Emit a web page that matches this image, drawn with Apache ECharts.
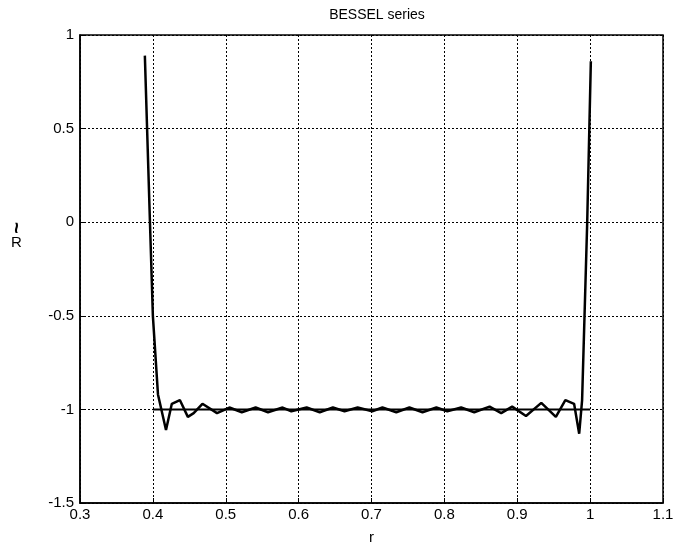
<!DOCTYPE html>
<html>
<head>
<meta charset="utf-8">
<script src="https://cdn.jsdelivr.net/npm/echarts@6/dist/echarts.min.js"></script>
<style>html,body{margin:0;padding:0;background:#fff}#c{width:681px;height:550px}</style>
</head>
<body>
<div id="c"></div>
<script>
var titleText = 'BESSEL series';
var xName = 'r';
var rVals = [0.389,0.396,0.400,0.407,0.418,0.426,0.437,0.448,0.456,0.468,0.488,0.505,0.522,0.541,0.558,0.578,0.590,0.611,0.629,0.647,0.663,0.681,0.701,0.715,0.734,0.752,0.770,0.789,0.804,0.823,0.841,0.862,0.878,0.893,0.912,0.933,0.953,0.966,0.978,0.985,0.989,0.996,1.001];
var RVals = [0.89,0.0,-0.5,-0.92,-1.11,-0.97,-0.95,-1.04,-1.02,-0.97,-1.02,-0.99,-1.015,-0.99,-1.015,-0.99,-1.01,-0.99,-1.015,-0.99,-1.01,-0.99,-1.01,-0.99,-1.015,-0.99,-1.015,-0.99,-1.01,-0.99,-1.015,-0.985,-1.02,-0.985,-1.035,-0.965,-1.04,-0.95,-0.97,-1.13,-0.95,0.0,0.86];
var exactR = [0.4, 1.0];
var exactVal = [-1, -1];

var chart = echarts.init(document.getElementById('c'));
var font = 'Liberation Sans, Arial, sans-serif';
var approx = rVals.map(function(r,i){return [r, RVals[i]];});
var exact = exactR.map(function(r,i){return [r, exactVal[i]];});
var splitStyle = {show:true, lineStyle:{color:'#000', type:[2,2], width:1}};
chart.setOption({
  animation:false,
  backgroundColor:'#fff',
  title:{text:titleText, left:372, top:3, textAlign:'center', textStyle:{fontFamily:font, fontSize:14, fontWeight:'normal', color:'#000'}},
  grid:{left:80, right:18, top:35, bottom:43, show:true, borderColor:'#000', borderWidth:1.5, backgroundColor:'#fff'},
  xAxis:{type:'value', min:0.3, max:1.1, interval:0.1, name:xName, nameLocation:'middle', nameGap:27,
    nameTextStyle:{fontFamily:font, fontSize:15, color:'#000'},
    axisLine:{show:true, onZero:false, lineStyle:{color:'#000', width:1.5}},
    axisTick:{show:true, inside:true, length:5, lineStyle:{color:'#000'}},
    axisLabel:{fontFamily:font, fontSize:15, color:'#000', margin:4, formatter:function(v){return String(Math.round(v*10)/10);}},
    splitLine:splitStyle},
  yAxis:{type:'value', min:-1.5, max:1, interval:0.5,
    axisLine:{show:true, onZero:false, lineStyle:{color:'#000', width:1.5}},
    axisTick:{show:true, inside:true, length:5, lineStyle:{color:'#000'}},
    axisLabel:{fontFamily:font, fontSize:15, color:'#000', margin:6},
    splitLine:splitStyle},
  graphic:[
    {type:'text', left:11, top:235, style:{text:'R', font:'15px Liberation Sans, Arial, sans-serif', fill:'#000'}},
    {type:'text', x:17, y:228, rotation:Math.PI/2, style:{text:'~', font:'bold 20px Liberation Sans, Arial, sans-serif', fill:'#000', align:'center', verticalAlign:'middle'}}
  ],
  series:[
    {type:'line', data:exact, symbol:'none', lineStyle:{color:'#000', width:2}, z:3},
    {type:'line', data:approx, symbol:'none', lineStyle:{color:'#000', width:2.5}, z:4}
  ]
});
</script>
</body>
</html>
